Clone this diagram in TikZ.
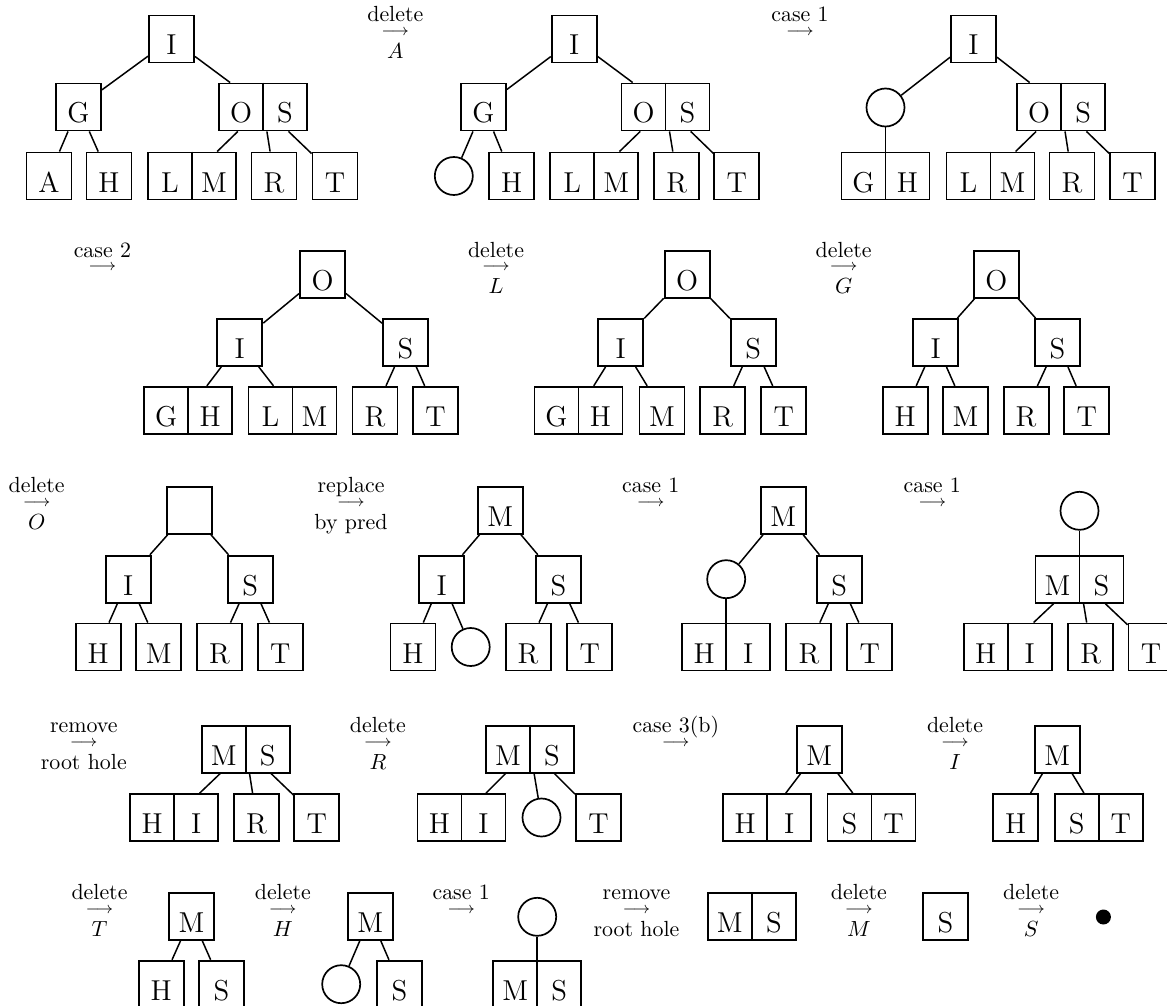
\documentclass[tikz,border=0pt]{standalone}
\usepackage{fontspec}
\tikzset{
  key/.style={draw, line width=0.95pt, minimum width=22.5pt, minimum height=23.5pt, inner sep=0pt, text height=16pt, text depth=0pt, font=\fontsize{14.4}{17}\selectfont},
  dkey/.style={key, minimum width=44pt},
  klet/.style={inner sep=0pt, text height=16pt, text depth=0pt, font=\fontsize{14.4}{17}\selectfont},
  hole/.style={circle, draw, line width=0.85pt, minimum size=19pt, inner sep=0pt},
  tedge/.style={line width=0.75pt},
  divider/.style={line width=0.95pt},
  arr/.style={inner sep=0pt, font=\fontsize{8}{9}\selectfont},
  lbl/.style={inner sep=0pt, anchor=base, font=\fontsize{10.95}{13}\selectfont},
  blackdot/.style={circle, fill, minimum size=7.5pt, inner sep=0pt},
}
\newcommand\twokey[4]{%
  \node[dkey] (#1) at #2 {};
  \draw[divider] (#1.north) -- (#1.south);
  \node[klet] (#1l) at ([xshift=-11pt]#1.center) {#3};
  \node[klet] (#1r) at ([xshift=11pt]#1.center) {#4};}
\newcommand\steplbl[4]{%
  \node[arr] (#1) at #2 {$\longrightarrow$};
  \node[lbl] (#1top) at ([yshift=5.25pt]#1.center) {#3};
  \node[lbl] (#1bot) at ([yshift=-13pt]#1.center) {#4};}
\newcommand\steplblone[3]{%
  \node[arr] (#1) at #2 {$\longrightarrow$};
  \node[lbl] (#1top) at ([yshift=5.25pt]#1.center) {#3};}
\begin{document}
\begin{tikzpicture}[x=0.5pt,y=-0.5pt]
\path[use as bounding box, clip] (0,0) rectangle (1167,1006);
% ---------------- Row 1 ----------------
% tree 1
\node[key] (t1i) at (171.5,39) {I};
\node[key] (t1g) at (78.5,107) {G};
\twokey{t1os}{(263,107)}{O}{S}
\node[key] (t1a) at (49,176) {A};
\node[key] (t1h) at (109,176) {H};
\twokey{t1lm}{(192,176)}{L}{M}
\node[key] (t1r) at (274,176) {R};
\node[key] (t1t) at (335,176) {T};
\draw[tedge] (t1i) -- (t1g);
\draw[tedge] (t1i) -- (t1os);
\draw[tedge] (t1g) -- (t1a);
\draw[tedge] (t1g) -- (t1h);
\draw[tedge] (t1os) -- (t1lm);
\draw[tedge] (t1os) -- (t1r);
\draw[tedge] (t1os) -- (t1t);
\steplbl{l1}{(395.3,32.3)}{delete}{$A$}
% tree 2
\node[key] (t2i) at (574.2,39) {I};
\node[key] (t2g) at (483.5,107) {G};
\twokey{t2os}{(665.5,107)}{O}{S}
\node[hole] (t2c) at (453.8,176) {};
\node[key] (t2h) at (511.8,176) {H};
\twokey{t2lm}{(594.2,176)}{L}{M}
\node[key] (t2r) at (676.8,176) {R};
\node[key] (t2t) at (736.7,176) {T};
\draw[tedge] (t2i) -- (t2g);
\draw[tedge] (t2i) -- (t2os);
\draw[tedge] (t2g) -- (t2c);
\draw[tedge] (t2g) -- (t2h);
\draw[tedge] (t2os) -- (t2lm);
\draw[tedge] (t2os) -- (t2r);
\draw[tedge] (t2os) -- (t2t);
\steplblone{l2}{(800,32.3)}{case 1}
% tree 3
\node[key] (t3i) at (973.5,39) {I};
\node[hole] (t3c) at (885.5,107.5) {};
\twokey{t3os}{(1061.2,107)}{O}{S}
\twokey{t3gh}{(885.5,176)}{G}{H}
\twokey{t3lm}{(990.5,176)}{L}{M}
\node[key] (t3r) at (1072,176) {R};
\node[key] (t3t) at (1132.5,176) {T};
\draw[tedge] (t3i) -- (t3c);
\draw[tedge] (t3i) -- (t3os);
\draw[tedge] (t3c) -- (t3gh);
\draw[tedge] (t3os) -- (t3lm);
\draw[tedge] (t3os) -- (t3r);
\draw[tedge] (t3os) -- (t3t);
% ---------------- Row 2 ----------------
\steplblone{l3}{(102.4,267.7)}{case 2}
% tree 4
\node[key] (t4o) at (322.5,274.2) {O};
\node[key] (t4i) at (239.8,342.5) {I};
\node[key] (t4s) at (405.5,342.5) {S};
\twokey{t4gh}{(188.3,410.3)}{G}{H}
\twokey{t4lm}{(292.5,410.3)}{L}{M}
\node[key] (t4r) at (375,410.3) {R};
\node[key] (t4t) at (435.5,410.3) {T};
\draw[tedge] (t4o) -- (t4i);
\draw[tedge] (t4o) -- (t4s);
\draw[tedge] (t4i) -- (t4gh);
\draw[tedge] (t4i) -- (t4lm);
\draw[tedge] (t4s) -- (t4r);
\draw[tedge] (t4s) -- (t4t);
\steplbl{l4}{(496,267.7)}{delete}{$L$}
% tree 5
\node[key] (t5o) at (687.1,274.2) {O};
\node[key] (t5i) at (620.8,342.5) {I};
\node[key] (t5s) at (753.2,342.5) {S};
\twokey{t5gh}{(578.5,410.3)}{G}{H}
\node[key] (t5m) at (662,410.3) {M};
\node[key] (t5r) at (722.7,410.3) {R};
\node[key] (t5t) at (783.7,410.3) {T};
\draw[tedge] (t5o) -- (t5i);
\draw[tedge] (t5o) -- (t5s);
\draw[tedge] (t5i) -- (t5gh);
\draw[tedge] (t5i) -- (t5m);
\draw[tedge] (t5s) -- (t5r);
\draw[tedge] (t5s) -- (t5t);
\steplbl{l5}{(843.6,267.7)}{delete}{$G$}
% tree 6
\node[key] (t6o) at (996.3,274.2) {O};
\node[key] (t6i) at (935.7,342.5) {I};
\node[key] (t6s) at (1057.4,342.5) {S};
\node[key] (t6h) at (905.2,410.3) {H};
\node[key] (t6m) at (965.6,410.3) {M};
\node[key] (t6r) at (1026.1,410.3) {R};
\node[key] (t6t) at (1086.7,410.3) {T};
\draw[tedge] (t6o) -- (t6i);
\draw[tedge] (t6o) -- (t6s);
\draw[tedge] (t6i) -- (t6h);
\draw[tedge] (t6i) -- (t6m);
\draw[tedge] (t6s) -- (t6r);
\draw[tedge] (t6s) -- (t6t);
% ---------------- Row 3 ----------------
\steplbl{l6}{(36.7,503.3)}{delete}{$O$}
% tree 7
\node[key] (t7o) at (189.4,510.3) {};
\node[key] (t7i) at (128.2,579.2) {I};
\node[key] (t7s) at (250.1,579.2) {S};
\node[key] (t7h) at (98.2,647) {H};
\node[key] (t7m) at (158.8,647) {M};
\node[key] (t7r) at (219.5,647) {R};
\node[key] (t7t) at (280.3,647) {T};
\draw[tedge] (t7o) -- (t7i);
\draw[tedge] (t7o) -- (t7s);
\draw[tedge] (t7i) -- (t7h);
\draw[tedge] (t7i) -- (t7m);
\draw[tedge] (t7s) -- (t7r);
\draw[tedge] (t7s) -- (t7t);
\steplbl{l7}{(351,503.3)}{replace}{by pred}
% tree 8
\node[key] (t8m) at (500.4,510.3) {M};
\node[key] (t8i) at (441.6,579.2) {I};
\node[key] (t8s) at (558.4,579.2) {S};
\node[key] (t8h) at (413,647) {H};
\node[hole] (t8c) at (470.7,647) {};
\node[key] (t8r) at (528.1,647) {R};
\node[key] (t8t) at (589.7,647) {T};
\draw[tedge] (t8m) -- (t8i);
\draw[tedge] (t8m) -- (t8s);
\draw[tedge] (t8i) -- (t8h);
\draw[tedge] (t8i) -- (t8c);
\draw[tedge] (t8s) -- (t8r);
\draw[tedge] (t8s) -- (t8t);
\steplblone{l8}{(650.8,503.3)}{case 1}
% tree 9
\node[key] (t9m) at (783.3,510.3) {M};
\node[hole] (t9c) at (726.2,579.2) {};
\node[key] (t9s) at (839.3,579.2) {S};
\twokey{t9hi}{(726.2,647)}{H}{I}
\node[key] (t9r) at (808.9,647) {R};
\node[key] (t9t) at (869.8,647) {T};
\draw[tedge] (t9m) -- (t9c);
\draw[tedge] (t9m) -- (t9s);
\draw[tedge] (t9c) -- (t9hi);
\draw[tedge] (t9s) -- (t9r);
\draw[tedge] (t9s) -- (t9t);
\steplblone{l9}{(932.3,503.3)}{case 1}
% tree 10
\node[hole] (t10c) at (1079.5,510.8) {};
\twokey{t10ms}{(1079.5,579.2)}{M}{S}
\twokey{t10hi}{(1007.7,647)}{H}{I}
\node[key] (t10r) at (1090.7,647) {R};
\node[key] (t10t) at (1151,647) {T};
\draw[tedge] (t10c) -- (t10ms);
\draw[tedge] (t10ms) -- (t10hi);
\draw[tedge] (t10ms) -- (t10r);
\draw[tedge] (t10ms) -- (t10t);
% ---------------- Row 4 ----------------
\steplbl{l10}{(83.8,743.3)}{remove}{root hole}
% tree 11
\twokey{t11ms}{(245.7,749.2)}{M}{S}
\twokey{t11hi}{(174.1,817.5)}{H}{I}
\node[key] (t11r) at (256.4,817.5) {R};
\node[key] (t11t) at (316.9,817.5) {T};
\draw[tedge] (t11ms) -- (t11hi);
\draw[tedge] (t11ms) -- (t11r);
\draw[tedge] (t11ms) -- (t11t);
\steplbl{l11}{(377.9,743.3)}{delete}{$R$}
% tree 12
\twokey{t12ms}{(530,749.2)}{M}{S}
\twokey{t12hi}{(461.5,817.5)}{H}{I}
\node[hole] (t12c) at (541.5,817.5) {};
\node[key] (t12t) at (598.5,817.5) {T};
\draw[tedge] (t12ms) -- (t12hi);
\draw[tedge] (t12ms) -- (t12c);
\draw[tedge] (t12ms) -- (t12t);
\steplblone{l12}{(675.8,743.3)}{case 3(b)}
% tree 13
\node[key] (t13m) at (819.2,749.2) {M};
\twokey{t13hi}{(767.2,817.5)}{H}{I}
\twokey{t13st}{(871.5,817.5)}{S}{T}
\draw[tedge] (t13m) -- (t13hi);
\draw[tedge] (t13m) -- (t13st);
\steplbl{l13}{(955,743.3)}{delete}{$I$}
% tree 14
\node[key] (t14m) at (1057.4,749.2) {M};
\node[key] (t14h) at (1015.6,817.5) {H};
\twokey{t14st}{(1098.7,817.5)}{S}{T}
\draw[tedge] (t14m) -- (t14h);
\draw[tedge] (t14m) -- (t14st);
% ---------------- Row 5 ----------------
\steplbl{l14}{(99.5,910)}{delete}{$T$}
% tree 15
\node[key] (t15m) at (191.5,916.3) {M};
\node[key] (t15h) at (161.1,984.2) {H};
\node[key] (t15s) at (221.4,984.2) {S};
\draw[tedge] (t15m) -- (t15h);
\draw[tedge] (t15m) -- (t15s);
\steplbl{l15}{(282.8,910)}{delete}{$H$}
% tree 16
\node[key] (t16m) at (370.3,916.3) {M};
\node[hole] (t16c) at (341.2,984.2) {};
\node[key] (t16s) at (399.4,984.2) {S};
\draw[tedge] (t16m) -- (t16c);
\draw[tedge] (t16m) -- (t16s);
\steplblone{l16}{(461.2,910)}{case 1}
% tree 17
\node[hole] (t17c) at (537.2,916.8) {};
\twokey{t17ms}{(537.2,984.2)}{M}{S}
\draw[tedge] (t17c) -- (t17ms);
\steplbl{l17}{(636.5,910)}{remove}{root hole}
% tree 18
\twokey{t18ms}{(751.9,916.3)}{M}{S}
\steplbl{l18}{(858.9,910)}{delete}{$M$}
% tree 19
\node[key] (t19s) at (945.4,916.3) {S};
\steplbl{l19}{(1031.1,910)}{delete}{$S$}
% tree 20
\node[blackdot] (t20) at (1103.4,917) {};
\end{tikzpicture}
\end{document}
